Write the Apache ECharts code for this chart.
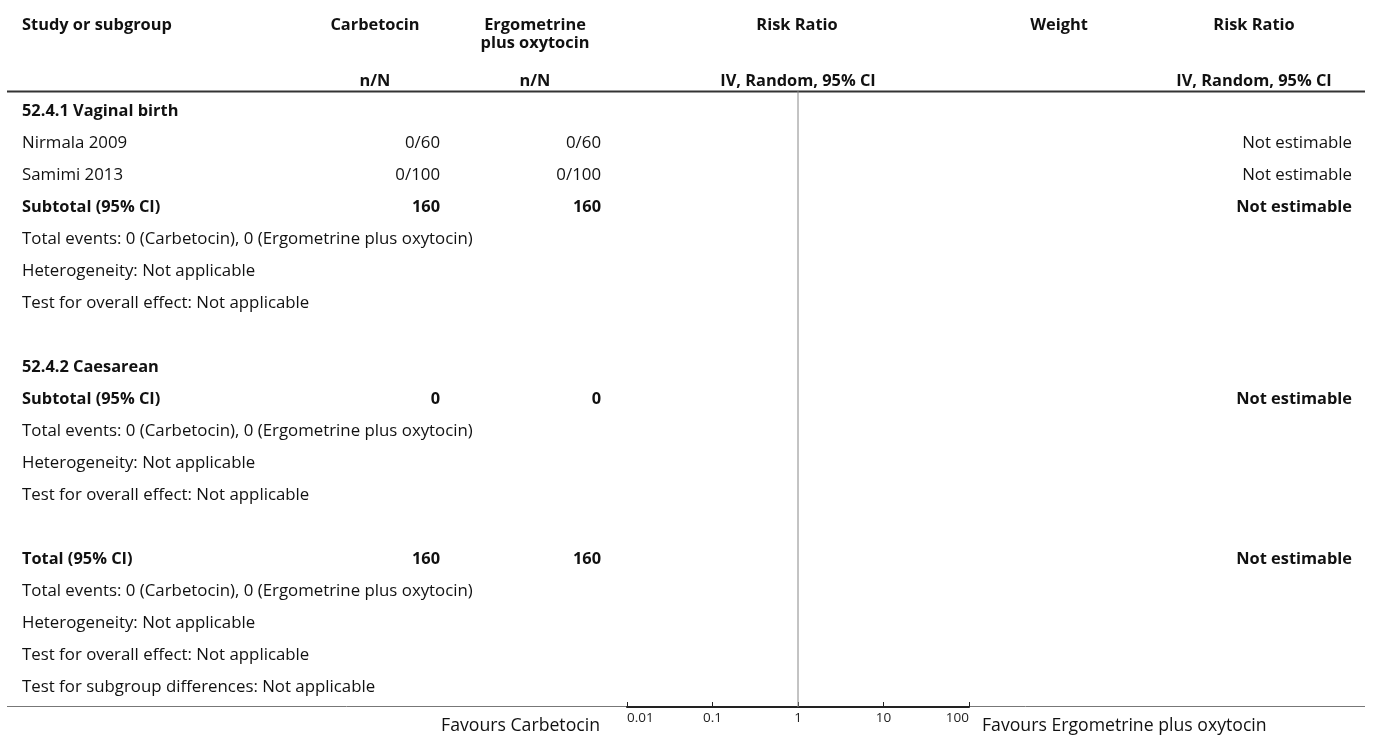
<!DOCTYPE html>
<html>
<head>
<meta charset="utf-8">
<script src="https://cdn.jsdelivr.net/npm/echarts@6/dist/echarts.min.js"></script>
<style>
html,body{margin:0;padding:0;background:#fff;}
#c{width:1373px;height:735px;}
</style>
</head>
<body>
<div id="c"></div>
<script>
// ---- data ----
const headers1 = ["Study or subgroup", "Carbetocin", "Ergometrine", "Risk Ratio", "Weight", "Risk Ratio"];
const headers1b = ["plus oxytocin"];
const headers2 = ["n/N", "n/N", "IV, Random, 95% CI", "IV, Random, 95% CI"];
// row kinds: h = subgroup heading, s = study, t = subtotal/total, n = note, b = blank
const rowLabels = ["52.4.1 Vaginal birth","Nirmala 2009","Samimi 2013","Subtotal (95% CI)",
  "Total events: 0 (Carbetocin), 0 (Ergometrine plus oxytocin)","Heterogeneity: Not applicable",
  "Test for overall effect: Not applicable","",
  "52.4.2 Caesarean","Subtotal (95% CI)",
  "Total events: 0 (Carbetocin), 0 (Ergometrine plus oxytocin)","Heterogeneity: Not applicable",
  "Test for overall effect: Not applicable","",
  "Total (95% CI)","Total events: 0 (Carbetocin), 0 (Ergometrine plus oxytocin)",
  "Heterogeneity: Not applicable","Test for overall effect: Not applicable",
  "Test for subgroup differences: Not applicable"];
const rowKinds = ["h","s","s","t","n","n","n","b","h","t","n","n","n","b","t","n","n","n","n"];
const carbetocin = ["","0/60","0/100","160","","","","","","0","","","","","160","","","",""];
const ergoOxy    = ["","0/60","0/100","160","","","","","","0","","","","","160","","","",""];
const effect     = ["","Not estimable","Not estimable","Not estimable","","","","","","Not estimable","","","","","Not estimable","","","",""];
const axisTicks = [0.01, 0.1, 1, 10, 100];
const favoursLeft = "Favours Carbetocin";
const favoursRight = "Favours Ergometrine plus oxytocin";

// ---- font fitting (match reference text widths) ----
const FONT = "Open Sans";
const ctx = document.createElement('canvas').getContext('2d');
function fit(str, bold, target){
  ctx.font = (bold?'bold ':'') + '100px "' + FONT + '"';
  return 100 * target / ctx.measureText(str).width;
}
const SZ = fit(rowLabels[4], false, 451);
const SZB = fit(headers1[0], true, 150);
const SZF = fit(favoursRight, false, 285);
const TX = 22;

// ---- chart ----
const chart = echarts.init(document.getElementById('c'), null, {renderer:'canvas'});
const yMin = -0.64, yMax = 18.61;
chart.setOption({
  animation:false,
  grid:{left:627, width:342, top:91, bottom:28, containLabel:false},
  xAxis:{type:'log', logBase:10, min:axisTicks[0], max:axisTicks[axisTicks.length-1], position:'bottom',
    axisLine:{show:true, onZero:false, lineStyle:{color:'#222', width:2}},
    axisTick:{show:true, inside:true, length:5, lineStyle:{color:'#222', width:1}},
    axisLabel:{show:true, fontSize:13.5, color:'#222', fontFamily:FONT, margin:4,
      alignMinLabel:'left', alignMaxLabel:'right'},
    splitLine:{show:false}, minorTick:{show:false}},
  yAxis:{type:'value', inverse:true, min:yMin, max:yMax, show:false},
  series:[{type:'line', data:[[1,yMin],[1,yMax]], symbol:'none', silent:true,
    lineStyle:{color:'#888', width:1}}]
});

const g = [];
function txt(x, y, s, align, bold, size){
  g.push({type:'text', x:x, y:y, silent:true, style:{text:s, x:0, y:0, textAlign:align||'left', textVerticalAlign:'middle',
    fontFamily:FONT, fontSize:size||(bold?SZB:SZ), fontWeight:bold?'bold':'normal', fill:'#111'}});
}
function line(x1,y1,x2,y2,color,w){
  g.push({type:'line', silent:true, z:-1, shape:{x1:x1,y1:y1,x2:x2,y2:y2}, style:{stroke:color, lineWidth:w}});
}
// headers
txt(TX,25,headers1[0],'left',true);
txt(375,25,headers1[1],'center',true);
txt(535,25,headers1[2],'center',true);
txt(535,43,headers1b[0],'center',true);
txt(797,25,headers1[3],'center',true);
txt(1059,25,headers1[4],'center',true);
txt(1254,25,headers1[5],'center',true);
txt(375,81,headers2[0],'center',true);
txt(535,81,headers2[1],'center',true);
txt(798,81,headers2[2],'center',true);
txt(1254,81,headers2[3],'center',true);
line(7,91.5,1365,91.5,'#333',2);
// rows
rowLabels.forEach((lab,i)=>{
  const y = chart.convertToPixel({gridIndex:0},[1,i])[1];
  const bold = rowKinds[i]==='h' || rowKinds[i]==='t';
  if(lab) txt(TX,y,lab,'left',bold);
  if(carbetocin[i]) txt(440,y,carbetocin[i],'right',rowKinds[i]==='t');
  if(ergoOxy[i]) txt(601,y,ergoOxy[i],'right',rowKinds[i]==='t');
  if(effect[i]) txt(1352,y,effect[i],'right',rowKinds[i]==='t');
});
// bottom rule
line(7,706.5,1365,706.5,'#777',1);
txt(600,726,favoursLeft,'right',false,SZF);
txt(982,726,favoursRight,'left',false,SZF);
chart.setOption({graphic:{elements:g}});
</script>
</body>
</html>
